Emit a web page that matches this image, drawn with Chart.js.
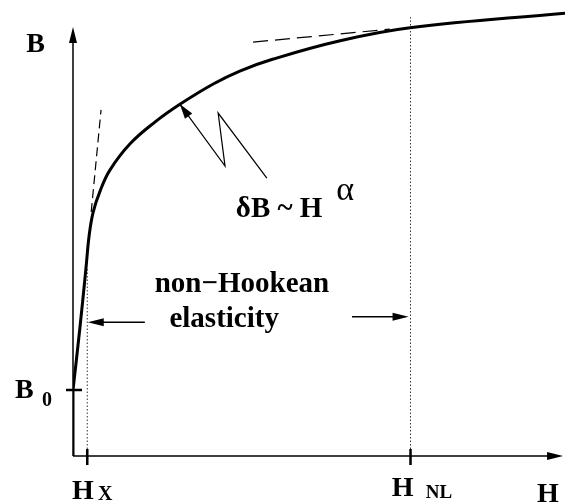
<!DOCTYPE html>
<html>
<head>
<meta charset="utf-8">
<script src="https://cdn.jsdelivr.net/npm/chart.js@4/dist/chart.umd.min.js"></script>
<style>
  html, body { margin: 0; padding: 0; background: #fff; }
  #wrap { width: 565px; height: 504px; }
</style>
</head>
<body>
<div id="wrap"><canvas id="bh" width="565" height="504"></canvas></div>
<script>
// B(H) curve (arbitrary units, H 0..10, B 0..10)
var curveH = [0, 0.14, 0.26, 0.33, 0.41, 0.55, 0.75, 1.16, 1.67, 2.18, 2.85, 3.39, 4.07, 5.43, 6.85, 10];
var curveB = [1.48, 2.87, 4.17, 4.96, 5.47, 5.94, 6.41, 7.00, 7.49, 7.89, 8.34, 8.63, 8.90, 9.31, 9.60, 9.93];

// marked points on the axes
var B0 = 1.48;
var Hx = 0.29;
var HNL = 6.86;

// tangent lines (dashed)
var tanLowH = [0.37, 0.57];
var tanLowB = [5.47, 7.76];
var tanHighH = [3.66, 6.44];
var tanHighB = [9.28, 9.57];

// top ends of the dotted verticals
var dotTopB = [4.24, 9.84];

// zigzag pointer to the curve (last point = arrow tip)
var zigH = [3.94, 2.95, 3.09, 2.17];
var zigB = [6.23, 7.69, 6.50, 7.89];

// "non-Hookean elasticity" arrows: [from, to] in H, at height B
var leftArrowH = [1.46, 0.30];
var leftArrowB = 3.0;
var rightArrowH = [5.67, 6.82];
var rightArrowB = 3.12;

function pts(xs, ys) {
  return xs.map(function (x, i) { return { x: x, y: ys[i] }; });
}

var serif = '"Liberation Serif", "Times New Roman", serif';

function arrowHead(ctx, x1, y1, x2, y2, len, half) {
  var a = Math.atan2(y2 - y1, x2 - x1);
  ctx.beginPath();
  ctx.moveTo(x2, y2);
  ctx.lineTo(x2 - len * Math.cos(a) + half * Math.sin(a), y2 - len * Math.sin(a) - half * Math.cos(a));
  ctx.lineTo(x2 - len * Math.cos(a) - half * Math.sin(a), y2 - len * Math.sin(a) + half * Math.cos(a));
  ctx.closePath();
  ctx.fill();
}

var sketchPlugin = {
  id: 'sketch',
  beforeDatasetsDraw: function (chart) {
    var ctx = chart.ctx;
    var xs = chart.scales.x, ys = chart.scales.y;
    var ox = xs.getPixelForValue(0), oy = ys.getPixelForValue(0);
    ctx.save();
    ctx.strokeStyle = '#000';
    ctx.fillStyle = '#000';
    ctx.lineWidth = 1.5;
    // axes
    var yTop = ys.getPixelForValue(9.62);
    var xEnd = xs.getPixelForValue(9.96);
    ctx.beginPath();
    ctx.moveTo(ox, oy); ctx.lineTo(ox, yTop + 8);
    ctx.moveTo(ox, oy); ctx.lineTo(xEnd - 8, oy);
    ctx.stroke();
    arrowHead(ctx, ox, oy, ox, yTop, 16, 4);
    arrowHead(ctx, ox, oy, xEnd, oy, 16, 4);
    ctx.restore();
  },
  afterDatasetsDraw: function (chart) {
    var ctx = chart.ctx;
    var xs = chart.scales.x, ys = chart.scales.y;
    var px = function (v) { return xs.getPixelForValue(v); };
    var py = function (v) { return ys.getPixelForValue(v); };
    var ox = px(0), oy = py(0);
    ctx.save();
    ctx.strokeStyle = '#000';
    ctx.fillStyle = '#000';

    // ticks
    ctx.lineWidth = 2.5;
    ctx.beginPath();
    ctx.moveTo(ox - 7, py(B0)); ctx.lineTo(ox + 9, py(B0));
    ctx.moveTo(px(Hx), oy - 7); ctx.lineTo(px(Hx), oy + 9);
    ctx.moveTo(px(HNL), oy - 7); ctx.lineTo(px(HNL), oy + 9);
    ctx.stroke();

    // zigzag pointer
    ctx.lineWidth = 1.2;
    ctx.beginPath();
    ctx.moveTo(px(zigH[0]), py(zigB[0]));
    for (var i = 1; i < zigH.length; i++) ctx.lineTo(px(zigH[i]), py(zigB[i]));
    ctx.stroke();
    var n = zigH.length;
    arrowHead(ctx, px(zigH[n - 2]), py(zigB[n - 2]), px(zigH[n - 1]), py(zigB[n - 1]), 15, 4.5);

    // range arrows
    ctx.lineWidth = 1.5;
    ctx.beginPath();
    ctx.moveTo(px(leftArrowH[0]), py(leftArrowB)); ctx.lineTo(px(leftArrowH[1]) + 10, py(leftArrowB));
    ctx.moveTo(px(rightArrowH[0]), py(rightArrowB)); ctx.lineTo(px(rightArrowH[1]) - 10, py(rightArrowB));
    ctx.stroke();
    arrowHead(ctx, px(leftArrowH[0]), py(leftArrowB), px(leftArrowH[1]), py(leftArrowB), 16, 4);
    arrowHead(ctx, px(rightArrowH[0]), py(rightArrowB), px(rightArrowH[1]), py(rightArrowB), 16, 4);

    // labels
    ctx.textBaseline = 'alphabetic';
    ctx.textAlign = 'left';
    var big = 'bold 28px ' + serif;
    var sub = 'bold 20px ' + serif;
    function txt(s, font, h, b) { ctx.font = font; ctx.fillText(s, px(h), py(b)); }
    txt('B', big, -0.95, 9.06);
    txt('B', big, -1.18, 1.30);
    txt('0', sub, -0.63, 1.12);
    txt('H', big, -0.02, -0.96);
    txt('X', sub, 0.51, -0.99);
    txt('H', big, 6.48, -0.90);
    txt('NL', 'bold 19px ' + serif, 7.17, -0.94);
    txt('H', big, 9.43, -1.03);
    txt('non\u2212Hookean', 'bold 29px ' + serif, 1.66, 3.68);
    txt('elasticity', 'bold 29px ' + serif, 1.96, 2.89);
    txt('\u03b4B ~ H', 'bold 29px ' + serif, 3.31, 5.36);
    txt('\u03b1', '34px ' + serif, 5.35, 5.74);
    ctx.restore();
  }
};

new Chart(document.getElementById('bh'), {
  type: 'scatter',
  data: {
    datasets: [
      {
        data: pts(curveH, curveB),
        showLine: true, borderColor: '#000', borderWidth: 3,
        pointRadius: 0, tension: 0.4
      },
      {
        data: pts([0, 0], [0, B0]),
        showLine: true, borderColor: '#000', borderWidth: 3, pointRadius: 0
      },
      {
        data: pts(tanLowH, tanLowB),
        showLine: true, borderColor: '#000', borderWidth: 1.2,
        borderDash: [9, 5], pointRadius: 0
      },
      {
        data: pts(tanHighH, tanHighB),
        showLine: true, borderColor: '#000', borderWidth: 1.2,
        borderDash: [15, 7], pointRadius: 0
      },
      {
        data: pts([Hx, Hx], [0, dotTopB[0]]),
        showLine: true, borderColor: '#333', borderWidth: 1,
        borderDash: [1.5, 2], pointRadius: 0
      },
      {
        data: pts([HNL, HNL], [0, dotTopB[1]]),
        showLine: true, borderColor: '#333', borderWidth: 1,
        borderDash: [1.5, 2], pointRadius: 0
      }
    ]
  },
  options: {
    responsive: false,
    animation: false,
    layout: { padding: { left: 73, right: 0, top: 10, bottom: 48 } },
    plugins: { legend: { display: false }, tooltip: { enabled: false } },
    scales: {
      x: { type: 'linear', min: 0, max: 10, display: false },
      y: { type: 'linear', min: 0, max: 10, display: false }
    }
  },
  plugins: [sketchPlugin]
});
</script>
</body>
</html>
